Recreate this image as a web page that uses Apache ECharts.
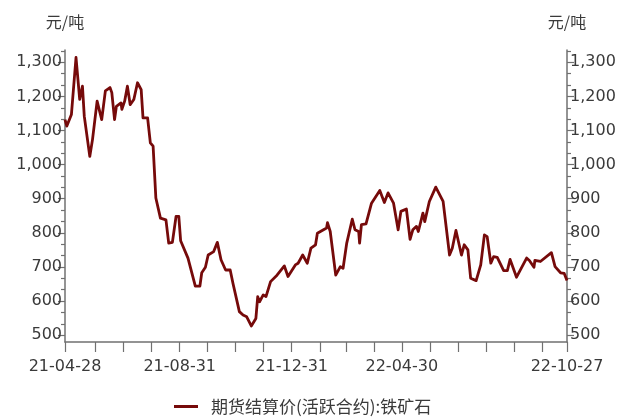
<!DOCTYPE html>
<html>
<head>
<meta charset="utf-8">
<script src="https://cdn.jsdelivr.net/npm/echarts@6/dist/echarts.min.js"></script>
<style>
html,body{margin:0;padding:0;background:#fff;}
#c{width:640px;height:417px;}
</style>
</head>
<body>
<div id="c"></div>
<script>
const seriesName = '期货结算价(活跃合约):铁矿石';
const unitLabel = '元/吨';
const dates = [
'2021-04-28','2021-04-30','2021-05-05','2021-05-10','2021-05-14','2021-05-17','2021-05-19','2021-05-25','2021-05-28',
'2021-06-02','2021-06-07','2021-06-11','2021-06-16','2021-06-18','2021-06-21','2021-06-23','2021-06-28','2021-06-29',
'2021-07-02','2021-07-05','2021-07-08','2021-07-12','2021-07-16','2021-07-20','2021-07-22','2021-07-27','2021-07-30',
'2021-08-02','2021-08-05','2021-08-10','2021-08-16','2021-08-19','2021-08-23','2021-08-27','2021-08-30',
'2021-09-01','2021-09-09','2021-09-10','2021-09-17','2021-09-22','2021-09-24','2021-09-28',
'2021-10-01','2021-10-07','2021-10-11','2021-10-15','2021-10-20','2021-10-25','2021-10-28',
'2021-11-04','2021-11-08','2021-11-12','2021-11-17','2021-11-22','2021-11-24','2021-11-26','2021-11-30',
'2021-12-03','2021-12-08','2021-12-15','2021-12-23','2021-12-27',
'2022-01-04','2022-01-07','2022-01-12','2022-01-17','2022-01-21','2022-01-26','2022-01-28',
'2022-02-07','2022-02-08','2022-02-11','2022-02-17','2022-02-22','2022-02-25',
'2022-03-01','2022-03-07','2022-03-10','2022-03-14','2022-03-15','2022-03-17','2022-03-22','2022-03-28',
'2022-04-06','2022-04-11','2022-04-15','2022-04-21','2022-04-26','2022-04-29',
'2022-05-05','2022-05-09','2022-05-12','2022-05-16','2022-05-18','2022-05-23','2022-05-25','2022-05-30',
'2022-06-06','2022-06-08','2022-06-14','2022-06-21','2022-06-24','2022-06-28',
'2022-07-04','2022-07-07','2022-07-11','2022-07-14','2022-07-20','2022-07-25','2022-07-29',
'2022-08-01','2022-08-05','2022-08-08','2022-08-12','2022-08-19','2022-08-23','2022-08-26',
'2022-09-02','2022-09-13','2022-09-16','2022-09-21','2022-09-22','2022-09-28',
'2022-10-10','2022-10-14','2022-10-20','2022-10-24','2022-10-27'
];
const prices = [
1132,1113,1147,1314,1191,1230,1142,1024,1074,
1186,1132,1216,1226,1211,1132,1171,1181,1162,
1186,1230,1176,1191,1240,1220,1137,1137,1064,
1054,902,843,838,770,772,848,848,
777,726,721,644,644,683,699,
735,745,772,721,691,691,652,
569,559,554,527,549,613,598,618,
613,657,676,703,672,
706,711,735,711,755,765,799,
814,830,804,676,701,696,
770,840,809,804,770,824,826,887,
924,889,917,887,809,863,
870,781,809,819,804,858,833,892,
934,931,892,735,755,807,
735,765,750,667,660,706,794,
789,711,730,728,689,689,722,
670,726,719,699,719,716,
742,701,683,681,660
];
const xLabelDates = ['2021-04-28','2021-08-31','2021-12-31','2022-04-30','2022-10-27'];
const xTickDates = ['2021-04-28','2021-05-31','2021-06-30','2021-07-31','2021-08-31','2021-09-30','2021-10-31','2021-11-30','2021-12-31',
'2022-01-31','2022-02-28','2022-03-31','2022-04-30','2022-05-31','2022-06-30','2022-07-31','2022-08-31','2022-09-30','2022-10-27'];
const yLabels = [500,600,700,800,900,1000,1100,1200,1300];
const yMinorTicks = [533.33,566.67,633.33,666.67,733.33,766.67,833.33,866.67,933.33,966.67,1033.33,1066.67,1133.33,1166.67,1233.33,1266.67,1333.33];

const ts = s => echarts.number.parseDate(s).getTime();
const pad = n => (n < 10 ? '0' : '') + n;
const fmtDate = v => { const d = new Date(v); return pad(d.getFullYear() % 100) + '-' + pad(d.getMonth() + 1) + '-' + pad(d.getDate()); };
const fmtNum = v => { const s = String(Math.round(v)); return s.length > 3 ? s.slice(0, s.length - 3) + ',' + s.slice(-3) : s; };

const FONT = 'DejaVu Sans';
const CJK = '"Noto Sans CJK SC", "DejaVu Sans"';
const axisColor = '#707070';
const textColor = '#3a3a3a';
const lineColor = '#760a0a';
const yMin = 480, yMax = 1336;

function mainY(pos) {
  return {
    type: 'value', position: pos, min: yMin, max: yMax,
    name: unitLabel, nameLocation: 'end', nameGap: 20,
    nameTextStyle: { color: textColor, fontSize: 16, fontFamily: CJK, align: 'center' },
    axisLine: { show: true, lineStyle: { color: axisColor, width: 1.5 } },
    axisTick: { show: true, length: 7, customValues: yLabels, lineStyle: { color: axisColor, width: 1.2 } },
    axisLabel: { show: true, customValues: yLabels, margin: 3, color: textColor, fontSize: 16, fontFamily: FONT, formatter: fmtNum },
    splitLine: { show: false }
  };
}
function minorY(pos) {
  return {
    type: 'value', position: pos, min: yMin, max: yMax,
    axisLine: { show: false },
    axisTick: { show: true, length: 4, customValues: yMinorTicks, lineStyle: { color: axisColor, width: 1.2 } },
    axisLabel: { show: false },
    splitLine: { show: false }
  };
}

const chart = echarts.init(document.getElementById('c'), null, { renderer: 'canvas' });
chart.setOption({
  backgroundColor: '#ffffff',
  animation: false,
  grid: { left: 65, right: 73, top: 50, bottom: 75 },
  legend: {
    left: 169, top: 393, itemWidth: 24, itemHeight: 3,
    icon: 'rect',
    textStyle: { color: textColor, fontSize: 17, fontFamily: CJK, padding: [0, 0, 0, 8] },
    data: [seriesName]
  },
  xAxis: {
    type: 'value', min: ts(dates[0]), max: ts(dates[dates.length - 1]),
    axisLine: { show: true, lineStyle: { color: axisColor, width: 1.5 } },
    axisTick: { show: true, length: 10, customValues: xTickDates.map(ts), lineStyle: { color: axisColor, width: 1.2 } },
    axisLabel: { show: true, customValues: xLabelDates.map(ts), margin: 17, color: textColor, fontSize: 16, fontFamily: FONT,
      formatter: v => fmtDate(v), showMinLabel: true, showMaxLabel: true, hideOverlap: false },
    splitLine: { show: false }
  },
  yAxis: [mainY('left'), minorY('left'), mainY('right'), minorY('right')],
  series: [{
    name: seriesName, type: 'line', yAxisIndex: 0, showSymbol: false,
    data: dates.map((d, i) => [ts(d), prices[i]]),
    lineStyle: { color: lineColor, width: 2.8, join: 'round' },
    itemStyle: { color: lineColor }
  }]
});
</script>
</body>
</html>
